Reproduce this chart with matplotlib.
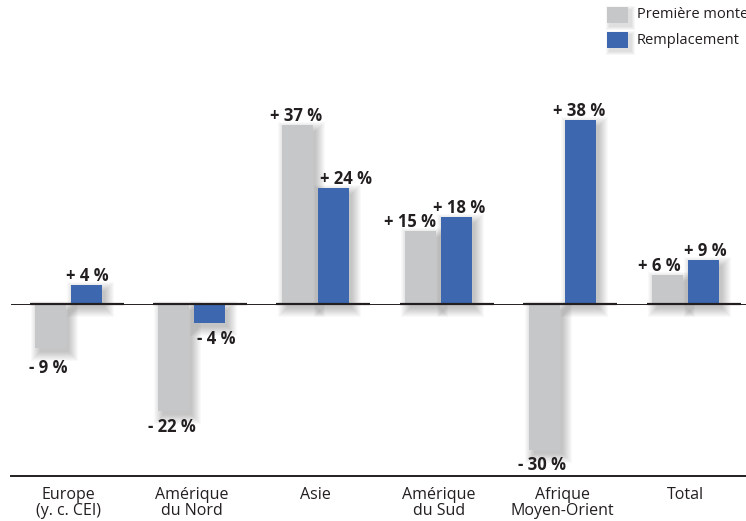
import matplotlib
matplotlib.use("Agg")
import matplotlib.pyplot as plt
from matplotlib.patches import Rectangle
from matplotlib.transforms import ScaledTranslation
import numpy as np

categories = ["Europe\n(y. c. CEI)", "Amérique\ndu Nord", "Asie", "Amérique\ndu Sud",
              "Afrique\nMoyen-Orient", "Total"]
premiere_monte = [-9, -22, 37, 15, -30, 6]
remplacement = [4, -4, 24, 18, 38, 9]
series_names = ["Première monte", "Remplacement"]

GRAY = "#c6c7c9"
BLUE = "#3d68b0"
TXT = "#231f20"

W, H = 746, 521
fig = plt.figure(figsize=(W / 100, H / 100), dpi=100)
ax_left, ax_right, ax_top, ax_bot = 11, 746, 0, 476
ax = fig.add_axes([ax_left / W, (H - ax_bot) / H, (ax_right - ax_left) / W, (ax_bot - ax_top) / H])

pxg = 123.4   # px per group
pxv = 4.85    # px per percent
x0 = 68.5     # px center of first group
zero_px = 304
ax.set_xlim((ax_left - x0) / pxg, (ax_right - x0) / pxg)
ax.set_ylim(-(ax_bot - zero_px) / pxv, (zero_px - ax_top) / pxv)

bw = 31 / pxg
off = 18 / pxg
x = np.arange(len(categories))

def shifted(dx_px, dy_px):
    return ax.transData + ScaledTranslation(dx_px / 100, -dy_px / 100, fig.dpi_scale_trans)

# soft drop shadows
sh_trans = shifted(4, 5)
for xs, vals in ((x - off, premiere_monte), (x + off, remplacement)):
    for xc, v in zip(xs, vals):
        for k in range(10):
            e = k * 1.0 - 1
            ex = e / pxg
            ey = e / pxv
            y0 = min(0, v) - ey
            h = abs(v) + 2 * ey
            ax.add_patch(Rectangle((xc - bw / 2 - ex, y0), bw + 2 * ex, h,
                                   facecolor="black", edgecolor="none", alpha=0.022,
                                   transform=sh_trans, zorder=1))

ax.bar(x - off, premiere_monte, bw, color=GRAY, zorder=3, linewidth=0)
ax.bar(x + off, remplacement, bw, color=BLUE, zorder=3, linewidth=0)

# zero line
ax.axhline(0, color=TXT, lw=0.7, zorder=4)
for xc in x:
    ax.plot([xc - 39 / pxg, xc + 55 / pxg], [0, 0], color=TXT, lw=1.6, zorder=4,
            solid_capstyle="butt")

# value labels (pixel nudges)
lab_dx = {(0, 0): -2, (0, 1): 1, (1, 0): -2, (1, 1): 6, (2, 0): -1, (2, 1): 13,
          (3, 0): -11, (3, 1): 2, (4, 0): -2, (4, 1): -1, (5, 0): -8, (5, 1): 2}
lab_dy = {(0, 0): 4}
for s, (xs, vals) in enumerate(((x - off, premiere_monte), (x + off, remplacement))):
    for i, (xc, v) in enumerate(zip(xs, vals)):
        sign = "+ " if v > 0 else "- "
        txt = f"{sign}{abs(v)} %"
        dx = lab_dx[(i, s)]
        dy = lab_dy.get((i, s), 0)
        if v > 0:
            ax.text(xc, v, txt, transform=shifted(dx, 0 + dy), ha="center", va="bottom",
                    fontsize=12, fontweight="bold", color=TXT, family="Open Sans", zorder=5)
        else:
            ax.text(xc, v, txt, transform=shifted(dx, 7 + dy), ha="center", va="top",
                    fontsize=12, fontweight="bold", color=TXT, family="Open Sans", zorder=5)

ax.set_xticks(x)
ax.set_xticklabels(categories, fontsize=11.5, color=TXT, family="Open Sans", linespacing=0.95)
ax.tick_params(axis="x", length=0, pad=8)
ax.set_yticks([])
for sp in ("left", "right", "top"):
    ax.spines[sp].set_visible(False)
ax.spines["bottom"].set_color(TXT)
ax.spines["bottom"].set_linewidth(1.4)
ax.patch.set_visible(False)

# legend
for j, (name, col) in enumerate(zip(series_names, (GRAY, BLUE))):
    yt = 7 + j * 25
    for k in range(4):
        e = k + 1
        fig.patches.append(Rectangle(((607 - e + 3) / W, (H - (yt + 16 + e + 3)) / H),
                                     (21 + 2 * e) / W, (16 + 2 * e) / H,
                                     transform=fig.transFigure, facecolor="black",
                                     edgecolor="none", alpha=0.03))
    fig.patches.append(Rectangle((607 / W, (H - (yt + 16)) / H), 21 / W, 16 / H,
                                 transform=fig.transFigure, facecolor=col, edgecolor="none"))
    fig.text(637 / W, (H - (yt + 8)) / H, name, fontsize=10.5, color=TXT,
             family="Open Sans", va="center", ha="left")

fig.savefig("out.png", dpi=100)
